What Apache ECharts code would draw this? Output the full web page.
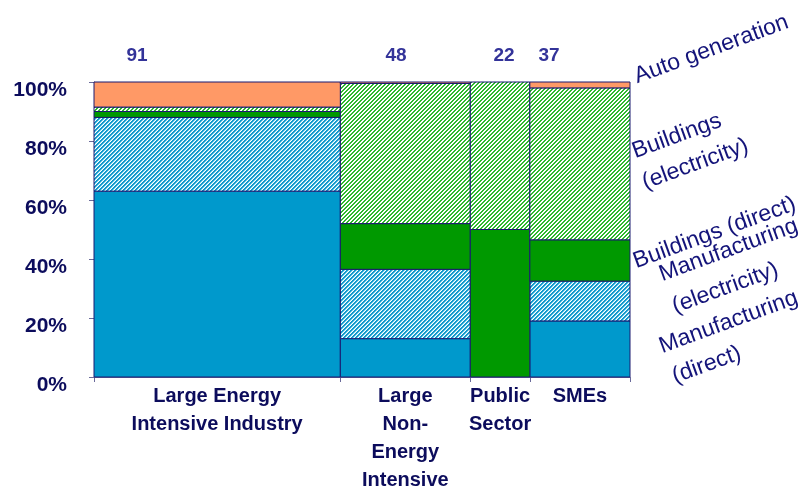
<!DOCTYPE html>
<html>
<head>
<meta charset="utf-8">
<script src="https://cdn.jsdelivr.net/npm/echarts@6/dist/echarts.min.js"></script>
<style>
  html, body { margin: 0; padding: 0; background: #fff; }
  #main { width: 810px; height: 494px; }
</style>
</head>
<body>
<div id="main"></div>
<script>
// columns (width = total) and the share of each segment, bottom to top
const categories = ['Large Energy\nIntensive Industry', 'Large\nNon-\nEnergy\nIntensive', 'Public\nSector', 'SMEs']
const totals = [91, 48, 22, 37]
const manufDirect = [63, 13, 0, 19]
const manufElec = [25, 23.5, 0, 13.5]
const buildDirect = [2, 15.5, 50, 14]
const buildElec = [1.5, 47.5, 50, 51.5]
const autoGen = [8.5, 0.5, 0, 2]
const segmentNames = ['Manufacturing (direct)', 'Manufacturing (electricity)', 'Buildings (direct)', 'Buildings (electricity)', 'Auto generation']

const segments = [manufDirect, manufElec, buildDirect, buildElec, autoGen]

// little diagonal hatch patterns
function hatch (colors) {
  const c = document.createElement('canvas')
  c.width = 4
  c.height = 4
  const ctx = c.getContext('2d')
  for (let x = 0; x < 4; x++) {
    for (let y = 0; y < 4; y++) {
      ctx.fillStyle = colors[(x + y) % 4]
      ctx.fillRect(x, y, 1, 1)
    }
  }
  return { image: c, repeat: 'repeat' }
}

const fills = [
  '#0099cc',
  hatch(['#1399cc', '#1399cc', '#8fd8ee', '#ffffff']),
  '#009900',
  hatch(['#2eb82e', '#2eb82e', '#ffffff', '#ffffff']),
  '#ff9966'
]

// column edges along x
const edges = [0]
totals.forEach(t => edges.push(edges[edges.length - 1] + t))
const mids = totals.map((t, i) => edges[i] + t / 2)
const xMax = edges[edges.length - 1]

const base = totals.map(() => 0)
const series = segments.map((seg, s) => {
  const data = []
  seg.forEach((v, i) => {
    if (v > 0) data.push([edges[i], edges[i + 1], base[i], base[i] + v])
    base[i] += v
  })
  return {
    name: segmentNames[s],
    type: 'custom',
    encode: { x: [0, 1], y: [2, 3] },
    renderItem: function (params, api) {
      const lo = api.coord([api.value(0), api.value(2)])
      const hi = api.coord([api.value(1), api.value(3)])
      return {
        type: 'rect',
        shape: { x: lo[0], y: hi[1], width: hi[0] - lo[0], height: lo[1] - hi[1] },
        style: { fill: fills[s], stroke: '#1a1a70', lineWidth: 1 }
      }
    },
    data: data
  }
})

const navy = '#0c0c5c'
const legendFont = '23px "Liberation Sans", Arial, sans-serif'
const rot = 0.35

function note (text, x, y) {
  return {
    type: 'text',
    x: x,
    y: y,
    rotation: rot,
    style: { text: text, fill: '#14147a', font: legendFont, align: 'left', verticalAlign: 'bottom' }
  }
}

function total (i, x) {
  return {
    type: 'text',
    x: x,
    y: 56,
    style: { text: String(totals[i]), fill: '#333399', font: 'bold 19px "Liberation Sans", Arial, sans-serif', align: 'center', verticalAlign: 'middle' }
  }
}

const dom = echarts.init(document.getElementById('main'))
const option = {
  animation: false,
  grid: { left: 94, right: 180, top: 82, bottom: 117 },
  xAxis: {
    type: 'value',
    min: 0,
    max: xMax,
    splitLine: { show: false },
    axisLine: { show: true, lineStyle: { color: '#6a6a9a' } },
    axisTick: { show: true, customValues: edges, length: 5, lineStyle: { color: '#6a6a9a' } },
    axisLabel: {
      customValues: mids,
      formatter: v => categories[mids.indexOf(v)] || '',
      color: navy,
      fontWeight: 'bold',
      fontSize: 20,
      fontFamily: '"Liberation Sans", Arial, sans-serif',
      lineHeight: 28,
      margin: 5
    }
  },
  yAxis: {
    type: 'value',
    min: 0,
    max: 100,
    interval: 20,
    splitLine: { show: false },
    axisLine: { show: true, lineStyle: { color: '#6a6a9a' } },
    axisTick: { show: true, length: 5, lineStyle: { color: '#6a6a9a' } },
    axisLabel: {
      formatter: '{value}%',
      color: navy,
      fontWeight: 'bold',
      fontSize: 21,
      fontFamily: '"Liberation Sans", Arial, sans-serif',
      margin: 27,
      verticalAlign: 'top',
      lineHeight: 16
    }
  },
  graphic: [
    total(0, 137), total(1, 396), total(2, 504), total(3, 549),
    note('Auto generation', 639, 88),
    note('Buildings', 637, 163),
    note('(electricity)', 647, 194),
    note('Buildings (direct)', 638, 273),
    note('Manufacturing', 664, 286),
    note('(electricity)', 677, 318),
    note('Manufacturing', 664, 358),
    note('(direct)', 677, 388)
  ],
  series: series
}
dom.setOption(option)
</script>
</body>
</html>
